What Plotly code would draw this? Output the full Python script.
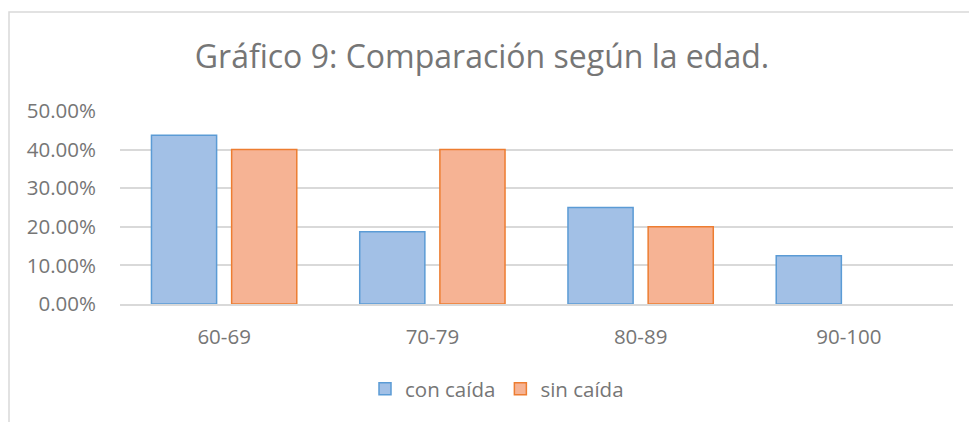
import plotly.graph_objects as go

categories = ["60-69", "70-79", "80-89", "90-100"]
con_caida = [0.4375, 0.1875, 0.25, 0.125]
sin_caida = [0.40, 0.40, 0.20, 0.0]
series_names = ["con caída", "sin caída"]
title_text = "Gráfico 9: Comparación según la edad."

FONT = "Open Sans"
GRAY = "#767676"
TS = 20.5


def edge_widths(vals, w=1.5):
    return [w if v > 0 else 0 for v in vals]


fig = go.Figure()
fig.add_trace(go.Bar(
    x=categories, y=con_caida, name=series_names[0],
    marker=dict(color="#a2c0e6", line=dict(color="#5b9bd5", width=edge_widths(con_caida))),
))
fig.add_trace(go.Bar(
    x=categories, y=sin_caida, name=series_names[1],
    marker=dict(color="#f6b394", line=dict(color="#ed7d31", width=edge_widths(sin_caida))),
))

W, H = 969, 422
L, T = 120, 111
R = W - 953
B = H - 304
pw, ph = W - L - R, H - T - B

fig.update_layout(
    width=W, height=H,
    margin=dict(l=L, r=R, t=T, b=B, pad=0),
    paper_bgcolor="white", plot_bgcolor="white",
    barmode="group", bargap=0.23, bargroupgap=0.1875,
    title=dict(text=title_text, x=482 / W, xanchor="center",
               y=1 - 57 / H, yanchor="middle",
               font=dict(family=FONT, size=32, color=GRAY)),
    font=dict(family=FONT, color=GRAY),
    legend=dict(orientation="h", x=(497 - L) / pw, xanchor="center",
                y=-(389 - 304) / ph, yanchor="middle",
                font=dict(family=FONT, size=TS, color=GRAY),
                itemwidth=30, traceorder="normal"),
    showlegend=True,
)
fig.update_xaxes(showgrid=False, showline=True, linecolor="#d9d9d9", linewidth=1.5,
                 tickfont=dict(family=FONT, size=TS, color=GRAY), ticks="", ticklen=0,
                 ticklabelstandoff=14)
fig.update_yaxes(range=[0, 0.5], dtick=0.1, tickformat=".2%", showgrid=True,
                 gridcolor="#d9d9d9", gridwidth=1.5, zeroline=False, showline=False,
                 tickfont=dict(family=FONT, size=TS, color=GRAY), ticks="",
                 ticklabelstandoff=23)

# chart-area border
fig.add_shape(type="rect", xref="paper", yref="paper",
              x0=(9 - L) / pw, x1=(1000 - L) / pw,
              y0=-(450 - 304) / ph, y1=(304 - 12) / ph,
              line=dict(color="#d9d9d9", width=1.5), fillcolor="rgba(0,0,0,0)", layer="below")

fig.write_html("out.html",
               config={"displayModeBar": False},
               post_script="document.body.style.margin='0px';document.body.style.overflow='hidden';")
